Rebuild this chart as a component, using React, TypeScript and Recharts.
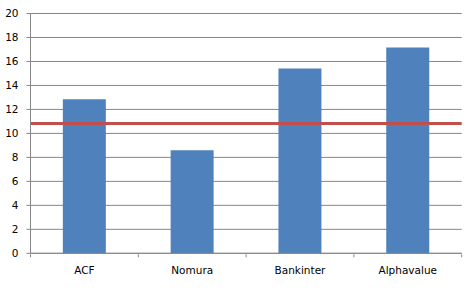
import { BarChart, Bar, XAxis, YAxis, CartesianGrid, ReferenceLine } from 'recharts'

const brokers = ['ACF', 'Nomura', 'Bankinter', 'Alphavalue']
const targets = [12.85, 8.6, 15.42, 17.17]
const currentPrice = 10.83
const yTicks = [0, 2, 4, 6, 8, 10, 12, 14, 16, 18, 20]
const edgeTicks = [0, 1, 2, 3, 4]

const chartData = brokers.map((name, i) => ({ name, slot: i + 0.5, target: targets[i] }))

const axisColor = '#868686'
const tickStyle = { fill: '#000', fontSize: 10.5, fontFamily: 'DejaVu Sans' }

// boundary tick marks only, no labels
const noLabel = () => <g />

export default function App() {
  return (
    <div style={{ position: 'absolute', left: 0, top: 0, width: 471, height: 300, background: '#fff' }}>
      <BarChart
        width={471}
        height={300}
        data={chartData}
        margin={{ top: 13.5, right: 9.3, left: 0, bottom: 16.7 }}
        barCategoryGap="30%"
      >
        <CartesianGrid vertical={false} stroke={axisColor} strokeWidth={1} />
        <XAxis
          dataKey="name"
          height={1}
          tickLine={false}
          tickSize={4}
          tickMargin={9}
          axisLine={{ stroke: axisColor }}
          tick={tickStyle}
          interval={0}
        />
        <XAxis
          xAxisId="edges"
          dataKey="slot"
          type="number"
          domain={[0, 4]}
          allowDataOverflow
          ticks={edgeTicks}
          interval={0}
          height={29}
          axisLine={false}
          tick={noLabel}
          tickSize={3}
          tickLine={{ stroke: axisColor }}
          orientation="bottom"
        />
        <YAxis
          width={30.5}
          domain={[0, 20]}
          ticks={yTicks}
          interval={0}
          tickSize={4}
          tickMargin={8}
          tickLine={{ stroke: axisColor }}
          axisLine={{ stroke: axisColor }}
          tick={tickStyle}
        />
        <Bar dataKey="target" fill="#4F81BD" isAnimationActive={false} />
        <ReferenceLine y={currentPrice} stroke="#C0504D" strokeWidth={3} />
      </BarChart>
    </div>
  )
}
